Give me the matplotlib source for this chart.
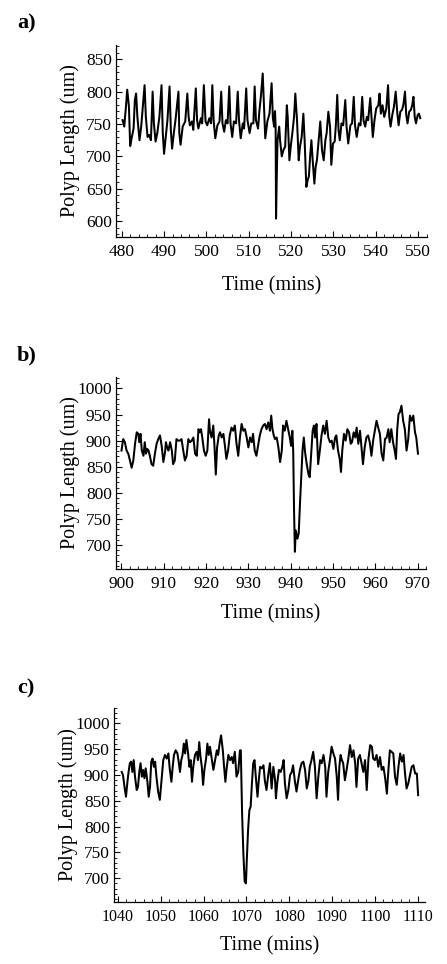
import numpy as np
import matplotlib.pyplot as plt
from matplotlib.ticker import MultipleLocator

# ---- panel a: 480-550 mins ----
a_time = [480.2, 480.6, 481.0, 481.3, 481.7, 482.0, 482.4, 482.8, 483.1, 483.4,
          483.7, 484.2, 484.6, 485.0, 485.4, 485.7, 486.1, 486.5, 486.9, 487.3,
          487.6, 488.0, 488.4, 488.9, 489.4, 489.7, 490.0, 490.5, 490.8, 491.3,
          491.6, 491.9, 492.4, 492.7, 493.4, 493.6, 493.9, 494.4, 495.0, 495.5,
          495.8, 496.1, 496.6, 496.9, 497.5, 497.8, 498.1, 498.7, 499.0, 499.4,
          499.8, 500.2, 500.7, 501.1, 501.4, 501.7, 502.1, 502.6, 503.1, 503.5,
          503.8, 504.2, 504.6, 505.0, 505.4, 505.7, 506.1, 506.5, 507.0, 507.4,
          507.7, 508.1, 508.6, 508.9, 509.4, 509.7, 510.2, 510.6, 511.1, 511.4,
          511.7, 512.2, 512.5, 512.9, 513.3, 513.6, 513.9, 514.4, 514.9, 515.4,
          515.7, 516.0, 516.2, 516.35, 516.45, 516.6, 516.8, 517.2, 517.4, 517.8,
          518.2, 518.6, 519.0, 519.2, 519.6, 520.0, 520.3, 520.7, 521.0, 521.4,
          521.8, 522.1, 522.5, 522.9, 523.2, 523.6, 523.9, 524.2, 524.5, 524.8,
          525.1, 525.5, 525.8, 526.1, 526.5, 526.9, 527.3, 527.7, 528.1, 528.4,
          528.8, 529.2, 529.5, 529.9, 530.3, 530.6, 530.9, 531.2, 531.5, 531.9,
          532.3, 532.8, 533.1, 533.5, 534.0, 534.4, 534.8, 535.1, 535.5, 536.0,
          536.4, 536.8, 537.1, 537.5, 537.9, 538.2, 538.7, 539.0, 539.3, 539.7,
          540.1, 540.6, 540.9, 541.2, 541.6, 542.0, 542.5, 542.9, 543.2, 543.5,
          543.9, 544.3, 544.7, 545.1, 545.4, 545.8, 546.2, 546.5, 546.9, 547.2,
          547.5, 547.9, 548.3, 548.6, 548.9, 549.2, 549.5, 549.9, 550.2, 550.5]
a_length = [756, 746, 777, 803, 777, 716, 730, 743, 787, 797,
            761, 725, 746, 777, 810, 761, 730, 733, 725, 800,
            751, 723, 736, 761, 810, 736, 704, 736, 756, 808,
            741, 712, 741, 756, 800, 736, 718, 746, 754, 797,
            761, 748, 754, 741, 805, 756, 743, 759, 751, 810,
            754, 748, 759, 751, 810, 756, 728, 748, 754, 800,
            751, 738, 756, 751, 808, 751, 730, 754, 751, 800,
            756, 728, 751, 743, 805, 756, 736, 751, 751, 808,
            756, 743, 769, 795, 828, 777, 728, 754, 766, 813,
            759, 746, 770, 745, 604, 663, 725, 746, 725, 700,
            710, 715, 779, 761, 694, 720, 736, 761, 797, 756,
            694, 715, 730, 766, 725, 653, 663, 669, 700, 725,
            694, 658, 684, 694, 725, 754, 710, 694, 725, 736,
            769, 746, 687, 720, 723, 751, 795, 741, 725, 751,
            748, 787, 746, 720, 748, 751, 792, 748, 730, 751,
            748, 792, 756, 746, 761, 756, 790, 761, 730, 756,
            774, 779, 797, 766, 779, 761, 774, 810, 761, 746,
            764, 777, 800, 766, 748, 769, 772, 779, 800, 764,
            751, 769, 772, 779, 792, 761, 751, 764, 766, 759]

# ---- panel b: 900-970 mins ----
b_time = [900.0, 900.4, 900.8, 901.2, 901.6, 902.0, 902.4, 902.8, 903.2, 903.6,
          904.0, 904.2, 904.5, 904.8, 905.2, 905.5, 905.8, 906.1, 906.4, 906.7,
          907.1, 907.5, 907.9, 908.3, 908.7, 909.1, 909.5, 909.9, 910.3, 910.5,
          910.8, 911.1, 911.5, 911.9, 912.2, 912.6, 913.0, 913.4, 913.8, 914.2,
          914.6, 915.0, 915.4, 915.8, 916.2, 916.6, 917.0, 917.4, 917.8, 918.2,
          918.5, 918.8, 919.1, 919.5, 919.9, 920.3, 920.7, 920.9, 921.3, 921.7,
          922.0, 922.3, 922.6, 923.0, 923.3, 923.7, 924.1, 924.5, 924.8, 925.2,
          925.6, 926.0, 926.4, 926.8, 927.2, 927.6, 928.0, 928.4, 928.8, 929.2,
          929.6, 930.0, 930.4, 930.8, 931.1, 931.5, 931.9, 932.3, 932.7, 933.1,
          933.5, 933.9, 934.3, 934.7, 935.1, 935.4, 935.7, 936.0, 936.3, 936.7,
          937.1, 937.5, 937.9, 938.2, 938.6, 939.0, 939.4, 939.8, 940.1, 940.4,
          940.6, 940.8, 941.0, 941.2, 941.6, 941.9, 942.2, 942.6, 942.8, 943.1,
          943.4, 943.8, 944.2, 944.5, 944.9, 945.2, 945.5, 945.8, 946.1, 946.5,
          946.9, 947.3, 947.7, 948.1, 948.5, 948.9, 949.3, 949.7, 950.1, 950.5,
          950.8, 951.2, 951.6, 951.9, 952.2, 952.6, 953.0, 953.4, 953.8, 954.2,
          954.5, 954.9, 955.3, 955.6, 956.0, 956.4, 956.8, 957.1, 957.5, 957.9,
          958.3, 958.7, 959.1, 959.5, 959.9, 960.3, 960.7, 961.1, 961.5, 961.9,
          962.3, 962.7, 963.1, 963.4, 963.8, 964.2, 964.6, 964.9, 965.2, 965.5,
          965.8, 966.2, 966.6, 967.0, 967.4, 967.8, 968.2, 968.6, 969.0, 969.4,
          969.7, 970.1]
b_length = [881, 903, 897, 881, 875, 862, 848, 862, 894, 916,
            913, 897, 913, 881, 871, 897, 875, 884, 881, 871,
            855, 852, 875, 894, 903, 910, 890, 859, 878, 897,
            887, 881, 897, 881, 855, 862, 903, 900, 900, 903,
            881, 862, 871, 903, 897, 900, 906, 875, 871, 922,
            916, 922, 906, 881, 871, 881, 941, 919, 906, 929,
            887, 835, 887, 910, 916, 906, 913, 887, 865, 881,
            910, 925, 919, 929, 894, 871, 906, 932, 919, 922,
            906, 887, 906, 897, 913, 881, 871, 890, 910, 922,
            929, 932, 922, 935, 919, 948, 922, 910, 903, 906,
            887, 859, 881, 929, 919, 938, 922, 906, 890, 919,
            881, 766, 687, 728, 712, 722, 779, 849, 881, 906,
            878, 855, 836, 830, 881, 919, 929, 906, 932, 855,
            881, 910, 929, 913, 938, 906, 897, 900, 884, 906,
            910, 881, 865, 840, 881, 913, 900, 922, 916, 894,
            897, 916, 906, 925, 894, 919, 881, 855, 887, 906,
            910, 897, 871, 900, 919, 938, 925, 913, 875, 862,
            903, 906, 922, 897, 922, 897, 881, 865, 922, 951,
            954, 967, 938, 922, 881, 903, 948, 938, 948, 916,
            906, 875]

# ---- panel c: 1040-1110 mins ----
c_time = [1040.9, 1041.2, 1041.6, 1041.9, 1042.2, 1042.5, 1042.8, 1043.1, 1043.4, 1043.7,
          1044.0, 1044.4, 1044.7, 1045.0, 1045.3, 1045.6, 1045.9, 1046.2, 1046.5, 1046.9,
          1047.2, 1047.5, 1047.8, 1048.1, 1048.4, 1048.7, 1049.0, 1049.4, 1049.8, 1050.2,
          1050.6, 1051.0, 1051.4, 1051.8, 1052.1, 1052.5, 1052.8, 1053.1, 1053.5, 1053.9,
          1054.2, 1054.5, 1054.8, 1055.1, 1055.4, 1055.7, 1056.0, 1056.4, 1056.7, 1057.0,
          1057.3, 1057.6, 1058.0, 1058.4, 1058.7, 1059.0, 1059.3, 1059.6, 1059.9, 1060.2,
          1060.6, 1060.9, 1061.2, 1061.5, 1061.9, 1062.3, 1062.7, 1063.1, 1063.4, 1063.8,
          1064.1, 1064.5, 1064.8, 1065.1, 1065.4, 1065.8, 1066.2, 1066.6, 1066.9, 1067.3,
          1067.7, 1068.1, 1068.5, 1068.7, 1069.0, 1069.3, 1069.6, 1069.9, 1070.1, 1070.4,
          1070.7, 1071.0, 1071.3, 1071.6, 1071.9, 1072.2, 1072.6, 1072.9, 1073.2, 1073.6,
          1074.0, 1074.3, 1074.7, 1075.1, 1075.5, 1075.9, 1076.3, 1076.7, 1076.9, 1077.2,
          1077.6, 1078.0, 1078.4, 1078.7, 1079.0, 1079.4, 1079.8, 1080.2, 1080.6, 1080.9,
          1081.3, 1081.7, 1082.1, 1082.5, 1082.9, 1083.3, 1083.7, 1084.1, 1084.5, 1084.8,
          1085.2, 1085.6, 1086.0, 1086.4, 1086.8, 1087.2, 1087.6, 1088.0, 1088.4, 1088.7,
          1089.1, 1089.5, 1089.9, 1090.3, 1090.7, 1091.1, 1091.4, 1091.7, 1092.0, 1092.3,
          1092.6, 1093.0, 1093.4, 1093.8, 1094.2, 1094.6, 1095.0, 1095.4, 1095.7, 1096.1,
          1096.5, 1096.9, 1097.3, 1097.7, 1098.1, 1098.5, 1098.9, 1099.3, 1099.6, 1100.0,
          1100.4, 1100.8, 1101.2, 1101.6, 1102.0, 1102.4, 1102.8, 1103.1, 1103.5, 1103.9,
          1104.3, 1104.7, 1105.1, 1105.5, 1105.9, 1106.3, 1106.7, 1107.0, 1107.4, 1107.8,
          1108.2, 1108.6, 1109.0, 1109.4, 1109.8, 1110.1]
c_length = [906, 900, 874, 858, 884, 906, 923, 926, 906, 929,
            897, 871, 877, 906, 923, 897, 910, 894, 913, 887,
            858, 877, 926, 932, 916, 926, 897, 868, 852, 890,
            929, 939, 932, 942, 913, 887, 916, 939, 948, 942,
            926, 906, 929, 939, 961, 942, 968, 942, 916, 929,
            887, 916, 939, 945, 929, 964, 935, 916, 881, 910,
            932, 961, 939, 955, 932, 910, 929, 948, 939, 964,
            977, 948, 916, 887, 913, 939, 929, 935, 923, 945,
            897, 906, 948, 948, 826, 748, 694, 690, 735, 794,
            832, 839, 884, 923, 929, 897, 858, 890, 916, 913,
            919, 890, 871, 900, 923, 874, 916, 890, 855, 884,
            910, 906, 916, 929, 884, 855, 871, 900, 906, 919,
            890, 868, 890, 910, 923, 926, 910, 874, 890, 916,
            929, 945, 916, 855, 897, 929, 923, 939, 916, 858,
            906, 929, 955, 942, 932, 897, 852, 916, 939, 929,
            923, 890, 910, 932, 958, 935, 948, 923, 877, 932,
            939, 923, 906, 929, 871, 932, 958, 955, 932, 929,
            939, 916, 935, 910, 916, 894, 864, 903, 948, 945,
            942, 897, 881, 916, 942, 926, 939, 906, 874, 884,
            900, 916, 919, 903, 903, 861]

panel_letters = ['a)', 'b)', 'c)']
y_ticks = [[600, 650, 700, 750, 800, 850],
           [700, 750, 800, 850, 900, 950, 1000],
           [700, 750, 800, 850, 900, 950, 1000]]
x_ticks = [[480, 490, 500, 510, 520, 530, 540, 550],
           [900, 910, 920, 930, 940, 950, 960, 970],
           [1040, 1050, 1060, 1070, 1080, 1090, 1100, 1110]]

plt.rcParams['font.family'] = ['Liberation Serif', 'DejaVu Serif']

fig = plt.figure(figsize=(4.47, 9.64), dpi=100)
W, H = 447.0, 964.0

# axes boxes in pixels: left, bottom(y from top), width, height
boxes = [(116, 237, 311, 192), (116, 569, 310, 192), (114, 902, 311, 194)]
xlims = [(478.65, 552.1), (898.7, 972.0), (1039.1, 1111.7)]
ylims = [(575.6, 872), (654, 1022), (654, 1030)]
letter_y = [23, 355, 688]
xlabel_y = [-0.205, -0.185, -0.175]
xtick_size = [12.5, 12.5, 11.5]

series = [(a_time, a_length), (b_time, b_length), (c_time, c_length)]

for i, (t, v) in enumerate(series):
    l, b, w, h = boxes[i]
    ax = fig.add_axes([l / W, 1 - b / H, w / W, h / H])
    ax.plot(t, v, color='black', lw=1.45)

    ax.set_xlim(*xlims[i])
    ax.set_ylim(*ylims[i])
    ax.set_xticks(x_ticks[i])
    ax.set_yticks(y_ticks[i])
    ax.xaxis.set_minor_locator(MultipleLocator(2))
    ax.yaxis.set_minor_locator(MultipleLocator(10))

    ax.spines['top'].set_visible(False)
    ax.spines['right'].set_visible(False)
    ax.spines['left'].set_linewidth(0.9)
    ax.spines['bottom'].set_linewidth(0.9)
    ax.tick_params(which='major', direction='in', length=4, width=0.8, pad=3)
    ax.tick_params(which='minor', direction='in', length=2, width=0.6)
    ax.tick_params(axis='y', labelsize=12.5)
    ax.tick_params(axis='x', labelsize=xtick_size[i], pad=5)

    ax.set_ylabel('Polyp Length (um)', fontsize=14.5)
    ax.yaxis.set_label_coords(-0.116, 0.5)
    ax.set_xlabel('Time (mins)', fontsize=14.5)
    ax.xaxis.set_label_coords(0.5, xlabel_y[i])

    fig.text(17 / W, 1 - letter_y[i] / H, panel_letters[i],
             fontsize=16, fontweight='bold', va='center', ha='left')

fig.savefig('out.png', dpi=100, facecolor='white')
